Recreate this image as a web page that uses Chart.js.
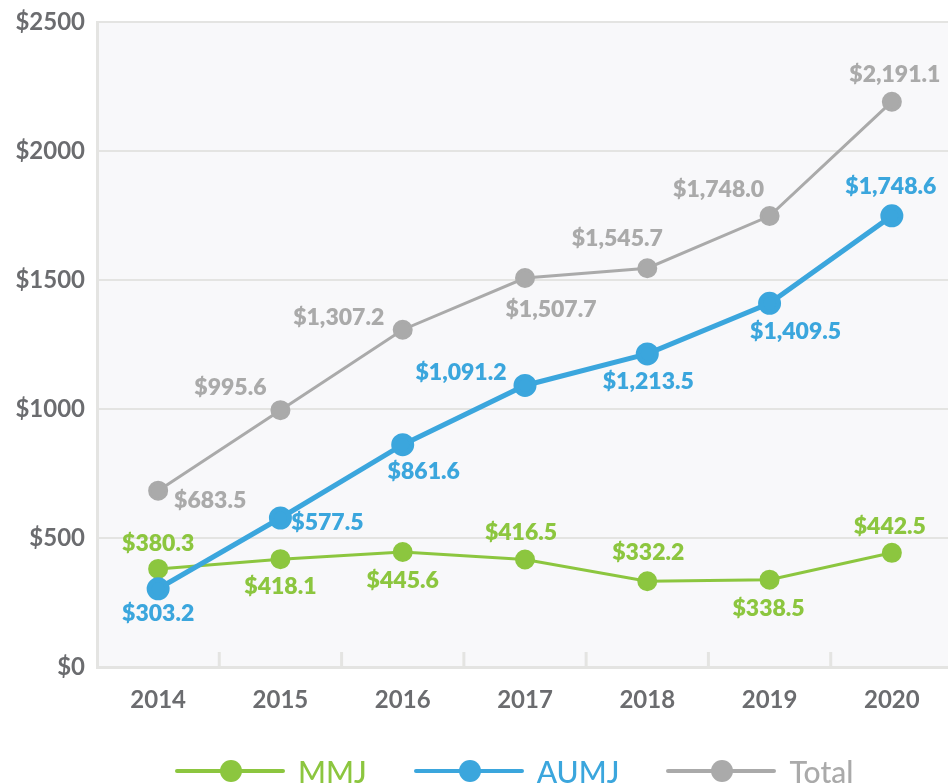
<!DOCTYPE html>
<html lang="en">
<head>
    <meta charset="UTF-8">
    <title>MMJ / AUMJ / Total</title>
    <script src="https://cdn.jsdelivr.net/npm/chart.js"></script>
    <style>
        html, body { margin: 0; padding: 0; background: #fff; overflow: hidden; }
        .wrap { position: relative; width: 948px; height: 783px; overflow: hidden; }
        #legend { position: absolute; left: 175px; top: 759px; height: 24px; display: flex; align-items: center; font-family: Lato, sans-serif; font-size: 30px; }
        .item { display: flex; align-items: center; margin-right: 47px; }
        .swatch { position: relative; width: 110px; height: 4px; border-radius: 2px; margin-right: 13px; }
        .swatch span { position: absolute; left: 45px; top: -9px; width: 22px; height: 22px; border-radius: 50%; }
        .txt { line-height: 30px; position: relative; top: 0px; font-weight: 500; }
    </style>
</head>
<body>
    <div class="wrap">
        <canvas id="chart" width="967" height="783"></canvas>
        <div id="legend"></div>
    </div>

    <script>
        // Données
        var years = ['2014', '2015', '2016', '2017', '2018', '2019', '2020'];
        var mmj = [380.3, 418.1, 445.6, 416.5, 332.2, 338.5, 442.5];
        var aumj = [303.2, 577.5, 861.6, 1091.2, 1213.5, 1409.5, 1748.6];
        var total = [683.5, 995.6, 1307.2, 1507.7, 1545.7, 1748.0, 2191.1];
        var yTicks = [0, 500, 1000, 1500, 2000, 2500];

        var green = '#8cc63f';
        var blue = '#3ba6dd';
        var grey = '#aaaaaa';
        var tickColor = '#6b6c6f';
        var lineGrey = '#e4e4e2';

        // position des étiquettes par rapport au point (dx, dy)
        var mmjLabelPos = [[0, -25], [0, 27], [0, 29], [-4, -27], [1, -29], [-1, 29], [-2, -26]];
        var aumjLabelPos = [[0, 25], [47, 5], [21, 27], [-64, -13], [1, 28], [26, 28], [-1, -29]];
        var totalLabelPos = [[52, 10], [-50, -23], [-64, -12], [26, 32], [-30, -30], [-51, -26], [3, -27]];

        function money(v) {
            return '$' + v.toLocaleString('en-US', { minimumFractionDigits: 1, maximumFractionDigits: 1 });
        }

        // fond gris clair de la zone du graphique
        var bgPlugin = {
            id: 'bg',
            beforeDraw: function (chart) {
                var a = chart.chartArea, ctx = chart.ctx;
                ctx.save();
                ctx.fillStyle = '#f8f8fa';
                ctx.fillRect(a.left, a.top, a.right - a.left, a.bottom - a.top);
                ctx.restore();
            }
        };

        // petits traits entre les années, vers le haut
        var tickPlugin = {
            id: 'innerTicks',
            beforeDatasetsDraw: function (chart) {
                var x = chart.scales.x, a = chart.chartArea, ctx = chart.ctx;
                ctx.save();
                ctx.strokeStyle = lineGrey;
                ctx.lineWidth = 3;
                for (var i = 0; i < years.length - 1; i++) {
                    var px = (x.getPixelForTick(i) + x.getPixelForTick(i + 1)) / 2;
                    ctx.beginPath();
                    ctx.moveTo(px, a.bottom - 15);
                    ctx.lineTo(px, a.bottom);
                    ctx.stroke();
                }
                ctx.restore();
            }
        };

        // étiquettes des valeurs
        var labelPlugin = {
            id: 'valueLabels',
            afterDatasetsDraw: function (chart) {
                var ctx = chart.ctx;
                ctx.save();
                ctx.font = '800 23px Lato';
                ctx.textAlign = 'center';
                ctx.textBaseline = 'middle';
                chart.data.datasets.forEach(function (ds, di) {
                    var meta = chart.getDatasetMeta(di);
                    ctx.fillStyle = ds.borderColor;
                    meta.data.forEach(function (pt, i) {
                        var off = ds.labelPos[i];
                        ctx.fillText(money(ds.data[i]), pt.x + off[0], pt.y + off[1]);
                    });
                });
                ctx.restore();
            }
        };

        var datasets = [{
            label: 'MMJ',
            data: mmj,
            borderColor: green,
            backgroundColor: green,
            borderWidth: 3,
            pointRadius: 8.5,
            order: 1,
            labelPos: mmjLabelPos
        }, {
            label: 'AUMJ',
            data: aumj,
            borderColor: blue,
            backgroundColor: blue,
            borderWidth: 5,
            pointRadius: 9,
            order: 0,
            labelPos: aumjLabelPos
        }, {
            label: 'Total',
            data: total,
            borderColor: grey,
            backgroundColor: grey,
            borderWidth: 3,
            pointRadius: 8.5,
            order: 2,
            labelPos: totalLabelPos
        }];

        var chart = new Chart(document.getElementById('chart'), {
            type: 'line',
            data: { labels: years, datasets: datasets },
            options: {
                responsive: false,
                animation: false,
                layout: { padding: { top: 22, left: 0, right: 0, bottom: 66 } },
                plugins: {
                    legend: { display: false },
                    tooltip: { enabled: false }
                },
                elements: { point: { borderWidth: 0, hoverRadius: 9 }, line: { tension: 0 } },
                scales: {
                    x: {
                        offset: true,
                        grid: { display: false },
                        border: { display: true, color: lineGrey, width: 3 },
                        ticks: { color: tickColor, font: { family: 'Lato', size: 24, weight: 'bold' }, padding: 11 },
                        afterFit: function (s) { s.height = 50; }
                    },
                    y: {
                        min: 0,
                        max: 2500,
                        afterBuildTicks: function (s) { s.ticks = yTicks.map(function (v) { return { value: v }; }); },
                        grid: { color: lineGrey, lineWidth: 2, drawTicks: false },
                        border: { display: true, color: lineGrey, width: 3 },
                        ticks: {
                            color: tickColor,
                            font: { family: 'Lato', size: 24, weight: 'bold' },
                            padding: 12,
                            callback: function (v) { return '$' + v; }
                        },
                        afterFit: function (s) { s.width = 97; s.paddingTop = 0; s.paddingBottom = 0; }
                    }
                }
            },
            plugins: [bgPlugin, tickPlugin, labelPlugin]
        });

        // légende HTML
        var legend = document.getElementById('legend');
        datasets.forEach(function (ds) {
            var item = document.createElement('div');
            item.className = 'item';
            item.innerHTML = '<div class="swatch" style="background:' + ds.borderColor + '"><span style="background:' + ds.borderColor + '"></span></div>' +
                '<div class="txt" style="color:' + ds.borderColor + '">' + ds.label + '</div>';
            legend.appendChild(item);
        });
    </script>
</body>
</html>
